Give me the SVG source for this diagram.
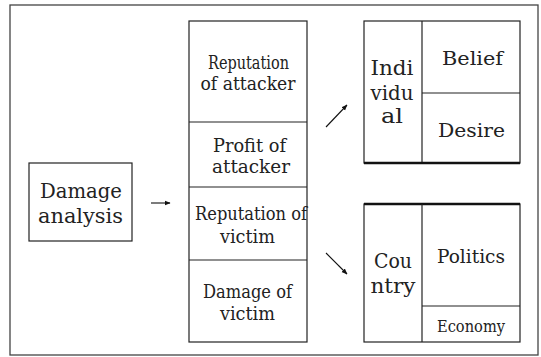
<svg xmlns="http://www.w3.org/2000/svg" width="541" height="357" viewBox="0 0 541 357">
<defs>
<marker id="ah" viewBox="0 0 10 10" refX="9" refY="5" markerWidth="6" markerHeight="6" orient="auto" markerUnits="userSpaceOnUse">
<path d="M0,1 L10,5 L0,9 z" fill="#111"/>
</marker>
<style>
.box{fill:#fff;stroke:#222;stroke-width:1.2}
.ln{stroke:#222;stroke-width:1.2;fill:none}
.thick{stroke:#111;stroke-width:2.5;fill:none}
.t{fill:#222;text-anchor:middle;font-family:"DejaVu Serif",serif}
.conn{stroke:#111;stroke-width:1.1;fill:none;marker-end:url(#ah)}
</style>
</defs>
<rect x="0" y="0" width="541" height="357" fill="#fff"/>
<rect x="10" y="5" width="528" height="350" fill="none" stroke="#444" stroke-width="1.3"/>

<g id="damage-analysis">
<rect class="box" x="29" y="163" width="103" height="78"/>
<text class="t" x="81" y="198" font-size="20" textLength="82" lengthAdjust="spacingAndGlyphs">Damage</text>
<text class="t" x="80.5" y="223" font-size="20" textLength="85" lengthAdjust="spacingAndGlyphs">analysis</text>
</g>

<g id="factors">
<rect class="box" x="189" y="21" width="118" height="321"/>
<line class="ln" x1="189" y1="122" x2="307" y2="122"/>
<line class="ln" x1="189" y1="187" x2="307" y2="187"/>
<line class="ln" x1="189" y1="260" x2="307" y2="260"/>
</g>
<g id="reputation-attacker">
<text class="t" x="248.5" y="69" font-size="19" textLength="81" lengthAdjust="spacingAndGlyphs">Reputation</text>
<text class="t" x="248" y="90" font-size="19" textLength="95" lengthAdjust="spacingAndGlyphs">of attacker</text>
</g>
<g id="profit-attacker">
<text class="t" x="249.5" y="152" font-size="19" textLength="73" lengthAdjust="spacingAndGlyphs">Profit of</text>
<text class="t" x="251" y="173" font-size="19" textLength="78" lengthAdjust="spacingAndGlyphs">attacker</text>
</g>
<g id="reputation-victim">
<text class="t" x="251" y="220" font-size="19" textLength="112" lengthAdjust="spacingAndGlyphs">Reputation of</text>
<text class="t" x="247.5" y="243" font-size="19" textLength="55" lengthAdjust="spacingAndGlyphs">victim</text>
</g>
<g id="damage-victim">
<text class="t" x="247.5" y="298" font-size="19" textLength="89" lengthAdjust="spacingAndGlyphs">Damage of</text>
<text class="t" x="247.5" y="320" font-size="19" textLength="55" lengthAdjust="spacingAndGlyphs">victim</text>
</g>

<g id="individual">
<rect class="box" x="364" y="21" width="156" height="142"/>
<line class="ln" x1="422" y1="21" x2="422" y2="163"/>
<line class="ln" x1="422" y1="93" x2="520" y2="93"/>
<line class="thick" x1="364" y1="163" x2="520" y2="163"/>
<text class="t" x="392" y="75" font-size="20" textLength="43" lengthAdjust="spacingAndGlyphs">Indi</text>
<text class="t" x="392" y="100" font-size="20" textLength="43" lengthAdjust="spacingAndGlyphs">vidu</text>
<text class="t" x="392" y="123" font-size="20" textLength="22" lengthAdjust="spacingAndGlyphs">al</text>
</g>
<g id="belief">
<text class="t" x="472.5" y="65" font-size="19" textLength="61" lengthAdjust="spacingAndGlyphs">Belief</text>
</g>
<g id="desire">
<text class="t" x="471.5" y="137" font-size="19" textLength="67" lengthAdjust="spacingAndGlyphs">Desire</text>
</g>

<g id="country">
<rect class="box" x="364" y="204" width="156" height="138"/>
<line class="thick" x1="364" y1="204" x2="520" y2="204"/>
<line class="ln" x1="422" y1="204" x2="422" y2="342"/>
<line class="ln" x1="422" y1="306" x2="520" y2="306"/>
<text class="t" x="393" y="268" font-size="20" textLength="38" lengthAdjust="spacingAndGlyphs">Cou</text>
<text class="t" x="393" y="293" font-size="20" textLength="45" lengthAdjust="spacingAndGlyphs">ntry</text>
</g>
<g id="politics">
<text class="t" x="471" y="263" font-size="19" textLength="68" lengthAdjust="spacingAndGlyphs">Politics</text>
</g>
<g id="economy">
<text class="t" x="471" y="332" font-size="16" textLength="68" lengthAdjust="spacingAndGlyphs">Economy</text>
</g>

<g id="connectors">
<line class="conn" x1="151" y1="203" x2="170" y2="203"/>
<line class="conn" x1="326" y1="127" x2="347" y2="105"/>
<line class="conn" x1="326" y1="253" x2="347" y2="274"/>
</g>
</svg>
